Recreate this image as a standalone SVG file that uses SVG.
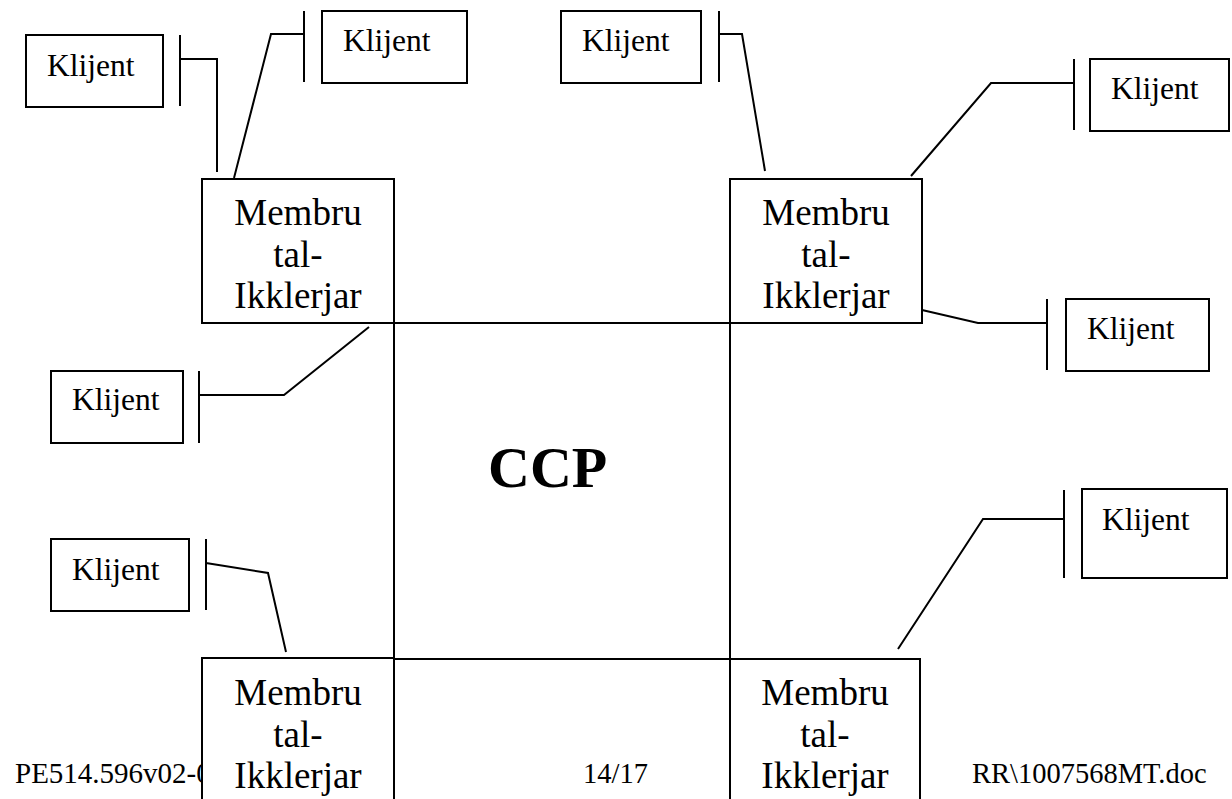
<svg xmlns="http://www.w3.org/2000/svg" width="1232" height="799" viewBox="0 0 1232 799">
<style>
.box{fill:#fff;stroke:#000;stroke-width:2}
.ln{fill:none;stroke:#000;stroke-width:2}
text{font-family:'Liberation Serif','Tinos','Times New Roman','Nimbus Roman','DejaVu Serif',serif;fill:#000}
.k{font-size:31.5px}
.m{font-size:37px;text-anchor:middle}
.f{font-size:28.5px}
.ccp{font-size:58px;font-weight:bold}
</style>
<rect width="1232" height="799" fill="#fff"/>
<g id="footer">
<text class="f" x="15" y="783" style="font-size:29px">PE514.596v02-0</text>
<text class="f" x="583" y="783">14/17</text>
<text class="f" x="972" y="783">RR\1007568MT.doc</text>
</g>
<g id="ccp">
<rect class="ln" x="394" y="323" width="336" height="336"/>
<text class="ccp" x="488" y="487">CCP</text>
</g>
<g id="connectors" class="ln">
<path d="M180,35V106M180,59H217V172"/>
<path d="M304,11V82M304,34H271L234,178"/>
<path d="M719,11V82M719,34H742L765,171"/>
<path d="M1074,59V130M1074,83H991L911,176"/>
<path d="M1047,299V370M1047,323H978L922,310"/>
<path d="M199,371V443M199,395H284L369,327"/>
<path d="M206,539V610M206,563L268,573L286,652"/>
<path d="M1064,490V578M1064,519H983L898,649"/>
</g>
<g id="m1"><rect class="box" x="202" y="179" width="192" height="144"/>
<text class="m" x="298" y="225">Membru</text><text class="m" x="298" y="267">tal-</text><text class="m" x="298" y="308">Ikklerjar</text></g>
<g id="m2"><rect class="box" x="730" y="179" width="192" height="144"/>
<text class="m" x="826" y="225">Membru</text><text class="m" x="826" y="267">tal-</text><text class="m" x="826" y="308">Ikklerjar</text></g>
<g id="m3"><rect class="box" x="202" y="658" width="192" height="160"/>
<text class="m" x="298" y="705">Membru</text><text class="m" x="298" y="747">tal-</text><text class="m" x="298" y="788">Ikklerjar</text></g>
<g id="m4"><rect class="box" x="730" y="659" width="190" height="160"/>
<text class="m" x="825" y="705">Membru</text><text class="m" x="825" y="747">tal-</text><text class="m" x="825" y="788">Ikklerjar</text></g>
<g id="c1"><rect class="box" x="26" y="35" width="137" height="72"/><text class="k" x="47" y="76">Klijent</text></g>
<g id="c2"><rect class="box" x="322" y="11" width="145" height="72"/><text class="k" x="343" y="51">Klijent</text></g>
<g id="c3"><rect class="box" x="561" y="11" width="140" height="72"/><text class="k" x="582" y="51">Klijent</text></g>
<g id="c4"><rect class="box" x="1090" y="59" width="139" height="72"/><text class="k" x="1111" y="99">Klijent</text></g>
<g id="c5"><rect class="box" x="1066" y="299" width="143" height="72"/><text class="k" x="1087" y="339">Klijent</text></g>
<g id="c6"><rect class="box" x="51" y="371" width="132" height="72"/><text class="k" x="72" y="410">Klijent</text></g>
<g id="c7"><rect class="box" x="51" y="539" width="138" height="72"/><text class="k" x="72" y="580">Klijent</text></g>
<g id="c8"><rect class="box" x="1082" y="489" width="145" height="89"/><text class="k" x="1102" y="530">Klijent</text></g>
</svg>
